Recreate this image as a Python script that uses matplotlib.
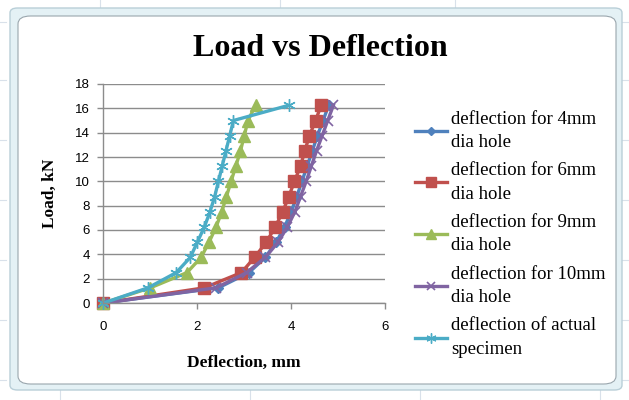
import matplotlib
matplotlib.use("Agg")
import matplotlib.pyplot as plt
from matplotlib.patches import FancyBboxPatch
from matplotlib.lines import Line2D

# Load steps (kN) shared by every specimen
load = [0, 1.25, 2.5, 3.75, 5, 6.25, 7.5, 8.75, 10, 11.25, 12.5, 13.75, 15, 16.25]

# Deflection (mm) for each specimen
defl_4mm = [0, 2.45, 3.1, 3.45, 3.68, 3.86, 4.0, 4.12, 4.23, 4.34, 4.45, 4.56, 4.68, 4.8]
defl_6mm = [0, 2.15, 2.94, 3.22, 3.47, 3.66, 3.82, 3.95, 4.07, 4.2, 4.29, 4.39, 4.52, 4.64]
defl_9mm = [0, 1.0, 1.78, 2.08, 2.25, 2.4, 2.52, 2.62, 2.72, 2.82, 2.92, 3.0, 3.08, 3.24]
defl_10mm = [0, 2.4, 3.05, 3.45, 3.72, 3.92, 4.08, 4.2, 4.32, 4.43, 4.54, 4.66, 4.78, 4.9]
defl_actual = [0, 0.95, 1.55, 1.85, 2.0, 2.15, 2.27, 2.37, 2.45, 2.53, 2.61, 2.69, 2.77, 3.95]

series_labels = [
    "deflection for 4mm\ndia hole",
    "deflection for 6mm\ndia hole",
    "deflection for 9mm\ndia hole",
    "deflection for 10mm\ndia hole",
    "deflection of actual\nspecimen",
]

x_ticks = [0, 2, 4, 6]
y_ticks = list(range(0, 19, 2))

W, H = 629, 400
fig = plt.figure(figsize=(W / 100, H / 100), dpi=100)
fig.patch.set_facecolor("white")

def fx(px):
    return px / W

def fy(py):
    return 1 - py / H

# spreadsheet cell lines behind the chart object
cell = dict(color="#d9e1ea", lw=0.8, zorder=-20)
for gx in [100, 280, 455]:
    fig.add_artist(Line2D([fx(gx), fx(gx)], [fy(0), fy(10)], **cell))
for gy in [22, 80, 140, 200, 260, 320, 380]:
    fig.add_artist(Line2D([0, fx(6)], [fy(gy), fy(gy)], **cell))
    fig.add_artist(Line2D([fx(622), 1], [fy(gy), fy(gy)], **cell))
for gx in [60, 250, 420, 600]:
    fig.add_artist(Line2D([fx(gx), fx(gx)], [fy(390), 0], **cell))

# chart frame with rounded corners
fig.add_artist(FancyBboxPatch((fx(10), fy(390)), fx(622) - fx(10), fy(8) - fy(390),
                              boxstyle="round,pad=0,rounding_size=0.012",
                              transform=fig.transFigure, facecolor="#e4f1f5",
                              edgecolor="#b9cfd8", lw=1.0, zorder=-15))
fig.add_artist(FancyBboxPatch((fx(18), fy(384)), fx(616) - fx(18), fy(16) - fy(384),
                              boxstyle="round,pad=0,rounding_size=0.02",
                              transform=fig.transFigure, facecolor="white",
                              edgecolor="#9aa6ad", lw=0.8, zorder=-10))

ax = fig.add_axes([fx(103.5), fy(303), fx(385) - fx(103.5), fy(84) - fy(303)])
ax.set_facecolor("none")

styles = [
    dict(color="#4F81BD", marker="D", ms=5.5),
    dict(color="#C0504D", marker="s", ms=8.5),
    dict(color="#9BBB59", marker="^", ms=8.5),
    dict(color="#8064A2", marker="x", ms=7, mew=1.2),
    dict(color="#4BACC6", marker=(6, 2, 0), ms=9, mew=1.0),
]
data = [defl_4mm, defl_6mm, defl_9mm, defl_10mm, defl_actual]

handles = []
for d, st, lab in zip(data, styles, series_labels):
    h, = ax.plot(d, load, lw=2.4, label=lab, clip_on=False, **st)
    handles.append(h)

ax.set_xlim(0, 6)
ax.set_ylim(0, 18)
ax.set_xticks(x_ticks)
ax.set_yticks(y_ticks)
ax.yaxis.grid(True, color="#8c8c8c", lw=1.0)
ax.set_axisbelow(True)
for s in ["top", "right"]:
    ax.spines[s].set_visible(False)
for s in ["left", "bottom"]:
    ax.spines[s].set_color("#8c8c8c")
    ax.spines[s].set_linewidth(1.0)
ax.tick_params(axis="both", colors="#8c8c8c", direction="out", length=4, width=1,
               labelcolor="black", labelsize=9.5)
ax.tick_params(axis="x", pad=9)
ax.tick_params(axis="y", pad=6)
for t in ax.get_xticklabels() + ax.get_yticklabels():
    t.set_fontfamily("Liberation Sans")

ax.set_xlabel("Deflection, mm", fontfamily="Liberation Serif", fontweight="bold",
              fontsize=12.5, labelpad=16)
ax.set_ylabel("Load, kN", fontfamily="Liberation Serif", fontweight="bold",
              fontsize=12.5, labelpad=12)

fig.text(fx(320), fy(48), "Load vs Deflection", ha="center", va="center",
         fontfamily="Liberation Serif", fontweight="bold", fontsize=23)

leg = fig.legend(handles=handles, loc="upper left",
                 bbox_to_anchor=(fx(407), fy(103)),
                 frameon=False, prop={"family": "Liberation Serif", "size": 13.5},
                 handlelength=1.75, handletextpad=0.2, labelspacing=0.6,
                 markerscale=0.8, borderaxespad=0)
for t in leg.get_texts():
    t.set_linespacing(1.5)

fig.savefig("out.png", dpi=100, facecolor="white")
